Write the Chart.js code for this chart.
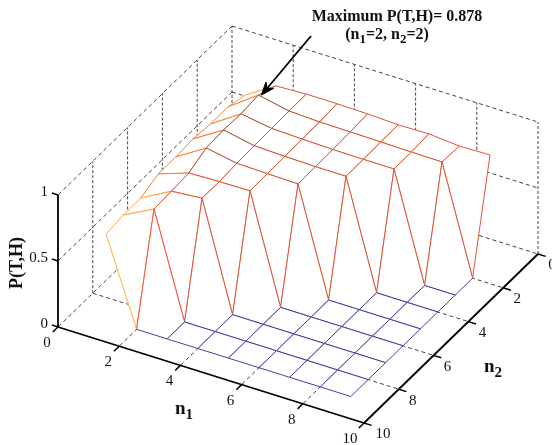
<!DOCTYPE html>
<html>
<head>
<meta charset="utf-8">
<title>P(T,H)</title>
<style>
html, body { margin: 0; padding: 0; background: #fff; overflow: hidden; }
#wrap { position: relative; width: 552px; height: 445px; }
</style>
<script src="https://cdn.jsdelivr.net/npm/chart.js@4/dist/chart.umd.min.js"></script>
</head>
<body>
<div id="wrap"><canvas id="chart" width="552" height="445"></canvas></div>
<script>
// grid axes
const n1Values = [1, 2, 3, 4, 5, 6, 7, 8, 9];
const n2Values = [1, 2, 3, 4, 5, 6, 7, 8, 9];
const n1Ticks = [0, 2, 4, 6, 8, 10];
const n2Ticks = [0, 2, 4, 6, 8, 10];
const zTicks = [0, 0.5, 1];
const zTickLabels = ['0', '0.5', '1'];

// P(T,H), one row per n1, columns n2 = 1..9
const pRow1 = [0.678, 0.715, 0.714, 0.729, 0.72, 0.72, 0.666, 0.665, 0.65];
const pRow2 = [0.82, 0.878, 0.864, 0.87, 0.861, 0.8, 0.79, 0.783, 0];
const pRow3 = [0.83, 0.83, 0.826, 0.823, 0.818, 0.807, 0.81, 0, 0];
const pRow4 = [0.83, 0.82, 0.818, 0.815, 0.812, 0.81, 0, 0, 0];
const pRow5 = [0.826, 0.817, 0.812, 0.81, 0.807, 0, 0, 0, 0];
const pRow6 = [0.816, 0.814, 0.81, 0.81, 0, 0, 0, 0, 0];
const pRow7 = [0.82, 0.81, 0.81, 0, 0, 0, 0, 0, 0];
const pRow8 = [0.8, 0.808, 0, 0, 0, 0, 0, 0, 0];
const pRow9 = [0.806, 0, 0, 0, 0, 0, 0, 0, 0];
const pRows = [pRow1, pRow2, pRow3, pRow4, pRow5, pRow6, pRow7, pRow8, pRow9];
const pMax = 0.878;

// oblique view of the 3D box, in scale units
function project(n1, n2, z) {
    return {
        x: 58 + 30.6 * n1 + 17.4 * (10 - n2),
        y: 327 + 9.6 * n1 - 16.9 * (10 - n2) - 132 * z
    };
}

// jet colormap washed a bit towards white, warmer at the top end
function jet(t) {
    const f = (c, floor) => {
        const v = Math.max(0, Math.min(1, 1.5 - Math.abs(4 * t - c)));
        return Math.round(255 * (floor + (1 - floor) * v));
    };
    return `rgb(${f(3, 0.25)},${f(2, 0.25 + 0.1 * t)},${f(1, 0.25 - 0.05 * t)})`;
}

const datasets = [];

function addLine(points, color, width, dash) {
    datasets.push({ data: points, borderColor: color, borderWidth: width, borderDash: dash || [] });
}
function box(a, b, color, width, dash) {
    addLine([project(...a), project(...b)], color, width, dash);
}

// walls and floor, dashed
const edgeDash = [4, 3];
const vertDash = [3, 2];
const gridCol = '#444';
zTicks.forEach(z => {
    box([0, 0, z], [0, 10, z], gridCol, 1, edgeDash);
    box([0, 0, z], [10, 0, z], gridCol, 1, edgeDash);
});
n2Ticks.forEach(n => {
    if (n < 10) box([0, n, 0], [0, n, 1], gridCol, 1, vertDash);
    if (n > 0 && n < 10) box([0, n, 0], [10, n, 0], gridCol, 1, edgeDash);
});
n1Ticks.forEach(n => {
    if (n > 0) box([n, 0, 0], [n, 0, 1], gridCol, 1, vertDash);
    if (n > 0 && n < 10) box([n, 0, 0], [n, 10, 0], gridCol, 1, edgeDash);
});

// surface, painted back to front: a white face, then its four edges
function vertex(i, j) {
    const p = project(n1Values[i], n2Values[j], pRows[i][j]);
    return { x: p.x, y: p.y, rank: i + j, z: pRows[i][j] };
}
function addEdge(a, b) {
    // the edge takes the colour of its lower index vertex
    const from = a.rank <= b.rank ? a : b;
    addLine([a, b], jet(from.z / pMax), 1);
}
for (let i = 0; i < n1Values.length - 1; i++) {
    for (let j = 0; j < n2Values.length - 1; j++) {
        const c = [vertex(i, j), vertex(i + 1, j), vertex(i + 1, j + 1), vertex(i, j + 1)];
        datasets.push({ data: c, faceColor: '#fff', borderWidth: 0, borderColor: '#fff' });
        c.forEach((v, k) => addEdge(v, c[(k + 1) % 4]));
    }
}

// solid axes and ticks
const axisCol = '#000';
box([0, 10, 0], [0, 10, 1], axisCol, 1.8);
box([0, 10, 0], [10, 10, 0], axisCol, 1.8);
box([10, 10, 0], [10, 0, 0], axisCol, 1.8);
zTicks.forEach(z => box([0, 10, z], [-0.2, 10, z], axisCol, 1.5));
n1Ticks.forEach(n => box([n, 10, 0], [n, 10.3, 0], axisCol, 1.5));
n2Ticks.forEach(n => box([10, n, 0], [10.25, n, 0], axisCol, 1.5));

// arrow to the maximum
const peak = project(2, 2, pMax);
const tip = { x: peak.x + 3, y: peak.y };
const tail = { x: 311, y: 36 };
const ang = Math.atan2(tail.y - tip.y, tail.x - tip.x);
const headAt = (len, off) => ({
    x: tip.x + len * Math.cos(ang) - off * Math.sin(ang),
    y: tip.y + len * Math.sin(ang) + off * Math.cos(ang)
});
addLine([headAt(8, 0), tail], '#000', 1.8);
datasets.push({ data: [tip, headAt(13, 5), headAt(9, 0), headAt(13, -5), tip], faceColor: '#000', borderColor: '#000', borderWidth: 1 });

// later datasets go on top
datasets.forEach((d, i) => {
    d.order = -i;
    d.showLine = true;
    d.pointRadius = 0;
    d.tension = 0;
    d.fill = false;
    d.clip = false;
});

const serif = '"Liberation Serif", "Times New Roman", serif';

function richText(ctx, pieces, cx, cy, size, bold) {
    const weight = bold ? 'bold ' : '';
    const fontOf = p => `${weight}${p.sub ? Math.round(size * 0.8) : size}px ${serif}`;
    let total = 0;
    pieces.forEach(p => { ctx.font = fontOf(p); total += ctx.measureText(p.t).width; });
    let x = cx - total / 2;
    ctx.textAlign = 'left';
    ctx.textBaseline = 'middle';
    pieces.forEach(p => {
        ctx.font = fontOf(p);
        ctx.fillText(p.t, x, cy + (p.sub ? size * 0.32 : 0));
        x += ctx.measureText(p.t).width;
    });
}

const facePlugin = {
    id: 'faces',
    beforeDatasetDraw(chart, args) {
        const ds = chart.data.datasets[args.index];
        if (!ds.faceColor) return;
        const pts = args.meta.data;
        const ctx = chart.ctx;
        ctx.save();
        ctx.beginPath();
        pts.forEach((p, i) => i ? ctx.lineTo(p.x, p.y) : ctx.moveTo(p.x, p.y));
        ctx.closePath();
        ctx.fillStyle = ds.faceColor;
        ctx.fill();
        ctx.restore();
    }
};

const labelPlugin = {
    id: 'labels',
    afterDatasetsDraw(chart) {
        const ctx = chart.ctx;
        const sx = chart.scales.x, sy = chart.scales.y;
        const px = p => ({ x: sx.getPixelForValue(p.x), y: sy.getPixelForValue(p.y) });
        ctx.save();
        ctx.fillStyle = '#111';

        ctx.font = `15px ${serif}`;
        ctx.textBaseline = 'middle';
        ctx.textAlign = 'center';
        n1Ticks.forEach(n => {
            const p = px(project(n, 10, 0));
            ctx.fillText(String(n), p.x - 11 - (n === 10 ? 3 : 0), p.y + 16);
        });
        n2Ticks.forEach(n => {
            const p = px(project(10, n, 0));
            ctx.fillText(String(n), p.x + 14 + (n === 10 ? 5 : 0), p.y + 11.5);
        });
        ctx.textAlign = 'right';
        zTicks.forEach((z, i) => {
            const p = px(project(0, 10, z));
            ctx.fillText(zTickLabels[i], p.x - 10, p.y - 2.5);
        });

        richText(ctx, [{ t: 'n' }, { t: '1', sub: true }], 184, 409, 19, true);
        richText(ctx, [{ t: 'n' }, { t: '2', sub: true }], 493, 367, 19, true);
        richText(ctx, [{ t: 'Maximum P(T,H)= 0.878' }], 397, 17, 16, true);
        richText(ctx, [{ t: '(n' }, { t: '1', sub: true }, { t: '=2, n' }, { t: '2', sub: true }, { t: '=2)' }], 387, 35, 16, true);

        ctx.translate(17, 263);
        ctx.rotate(-Math.PI / 2);
        richText(ctx, [{ t: 'P(T,H)' }], 0, 0, 18, true);
        ctx.restore();
    }
};

new Chart(document.getElementById('chart'), {
    type: 'scatter',
    data: { datasets },
    plugins: [facePlugin, labelPlugin],
    options: {
        responsive: false,
        animation: false,
        layout: { padding: 0 },
        plugins: { legend: { display: false }, tooltip: { enabled: false } },
        scales: {
            x: { type: 'linear', min: 0, max: 552, display: false },
            y: { type: 'linear', min: 0, max: 445, reverse: true, display: false }
        }
    }
});
</script>
</body>
</html>
